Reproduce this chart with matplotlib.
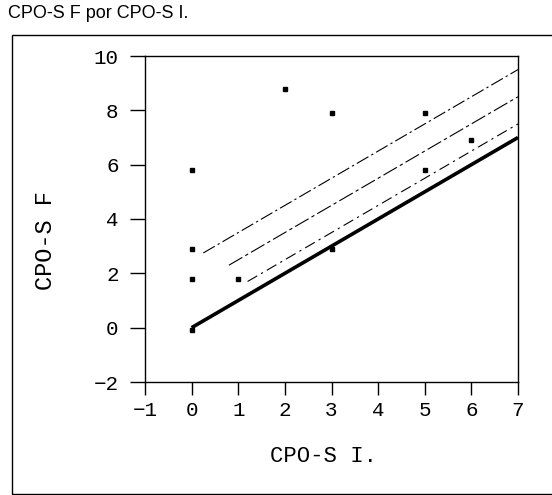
import matplotlib
matplotlib.use("Agg")
import matplotlib.pyplot as plt
from matplotlib.patches import Rectangle

# data
cpo_i = [0, 0, 0, 0, 1, 2, 3, 3, 5, 5, 6]
cpo_f = [-0.1, 1.8, 2.9, 5.8, 1.8, 8.8, 7.9, 2.9, 7.9, 5.8, 6.9]

# reference lines y = x + offset, drawn from a start x to the right edge
line_offsets = [2.5, 1.5, 0.5]
line_starts = [0.25, 0.8, 1.2]
x_end = 7

x_ticks = [-1, 0, 1, 2, 3, 4, 5, 6, 7]
y_ticks = [-2, 0, 2, 4, 6, 8, 10]

mono = ["Liberation Mono", "DejaVu Sans Mono"]

fig = plt.figure(figsize=(5.52, 4.95), dpi=100)
ax = fig.add_axes([145 / 552, 1 - 382 / 495, (518 - 145) / 552, (382 - 56) / 495])

# outer frame of the printed figure
fig.patches.append(Rectangle((12 / 552, 1 / 495), 1.2, 459 / 495,
                             transform=fig.transFigure, fill=False,
                             edgecolor="black", linewidth=1.0))

fig.text(8 / 552, 1 - 13 / 495, "CPO-S F por CPO-S I.", ha="left", va="center",
         fontsize=13, family="Liberation Sans")

# identity line
ax.plot([0, x_end], [0, x_end], color="black", linewidth=2.6, solid_capstyle="butt")

dash_styles = [(0, (12, 3, 2, 3)), (0, (14, 3, 3, 3)), (0, (10, 4, 2, 4))]
for off, x0, ls in zip(line_offsets, line_starts, dash_styles):
    ax.plot([x0, x_end], [x0 + off, x_end + off], color="black",
            linewidth=0.8, linestyle=ls)

ax.plot(cpo_i, cpo_f, linestyle="none", marker="s", markersize=3.3,
        color="black")

ax.set_xlim(-1, 7)
ax.set_ylim(-2, 10)
ax.set_xticks(x_ticks)
ax.set_yticks(y_ticks)
ax.set_xticklabels(["\u22121" if t < 0 else str(t) for t in x_ticks], family=mono, fontsize=15)
ax.set_yticklabels(["\u22122" if t < 0 else str(t) for t in y_ticks], family=mono, fontsize=15)
ax.tick_params(direction="out", width=1.0)
ax.tick_params(axis="x", length=9, pad=5)
ax.tick_params(axis="y", length=11, pad=8)
for s in ax.spines.values():
    s.set_linewidth(1.0)

ax.set_xlabel("CPO-S I.", family=mono, fontsize=16)
ax.xaxis.label.set_va("center")
ax.xaxis.set_label_coords((323 - 145) / 373, -(457 - 382) / 326)

ax.set_ylabel("CPO-S F", family=mono, fontsize=17)
ax.yaxis.label.set_va("center")
ax.yaxis.set_label_coords((45 - 145) / 373, 1 - (241 - 56) / 326)

fig.savefig("out.png", dpi=100)
